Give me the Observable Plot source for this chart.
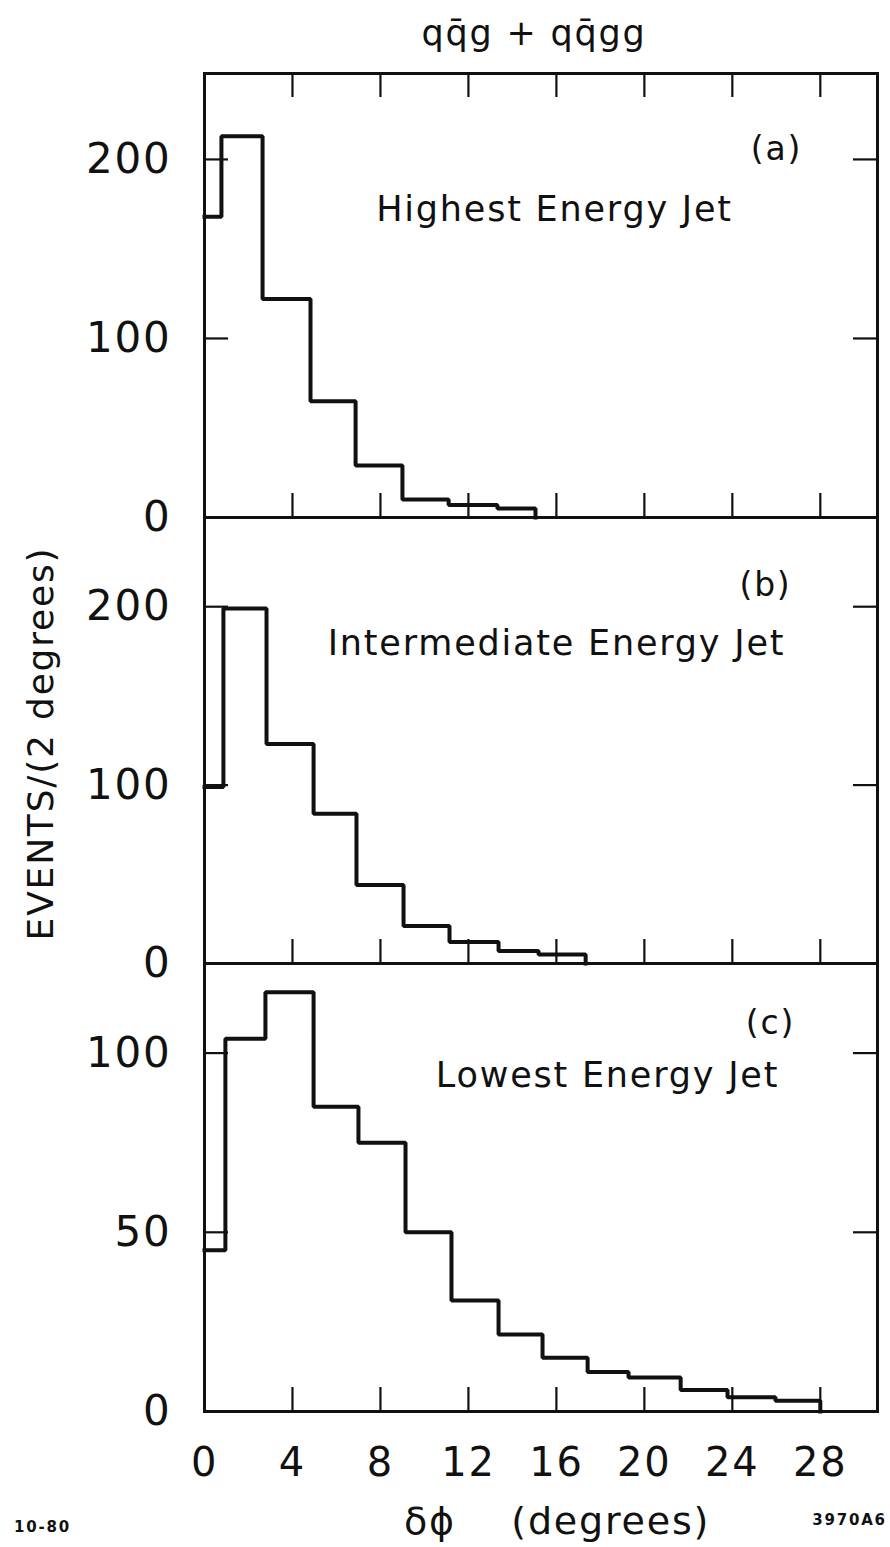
<!DOCTYPE html>
<html>
<head>
<meta charset="utf-8">
<script src="https://cdn.jsdelivr.net/npm/d3@7"></script>
<script src="https://cdn.jsdelivr.net/npm/@observablehq/plot@0.6"></script>
<style>
  body { margin: 0; background: #fff; }
  #chart { position: relative; width: 890px; height: 1547px; background: #fff; }
  #chart svg { position: absolute; left: 0; top: 0; }
</style>
</head>
<body>
<div id="chart"></div>
<script>
// ---- texts ----
const titleText = "qq\u0304g + qq\u0304gg";
const yTitle = "EVENTS/(2 degrees)";
const xTitle = "\u03b4\u03d5\u00a0\u00a0\u00a0\u00a0(degrees)";
const noteLeft = "10-80";
const noteRight = "3970A6";
const panelLabels = ["(a)", "(b)", "(c)"];
const panelNames = ["Highest Energy Jet", "Intermediate Energy Jet", "Lowest Energy Jet"];

// ---- x axis ticks (degrees) ----
const xTicks = [0, 4, 8, 12, 16, 20, 24, 28];

// ---- (a) highest energy jet: bin edges (degrees) and counts ----
const edgesA = [0, 0.77, 2.64, 4.82, 6.87, 9.0, 11.1, 13.32, 15.05];
const countsA = [168, 213, 122, 65, 29, 10, 7, 5];

// ---- (b) intermediate energy jet ----
const edgesB = [0, 0.86, 2.82, 4.96, 6.91, 9.05, 11.14, 13.37, 15.19, 17.33];
const countsB = [99, 199, 123, 84, 44, 21, 12, 7, 5];

// ---- (c) lowest energy jet ----
const edgesC = [0, 0.95, 2.77, 4.96, 7.0, 9.14, 11.23, 13.37, 15.37, 17.42, 19.28, 21.65, 23.78, 25.96, 28.0];
const countsC = [45, 104, 117, 85, 75, 50, 31, 21.5, 15, 11, 9.5, 6, 4, 3];

// ---- y ticks per panel ----
const yTicksA = [0, 100, 200];
const yTicksB = [0, 100, 200];
const yTicksC = [0, 50, 100];

// ---- layout ----
const W = 890, H = 1547, ML = 204, MR = 13;
const XMAX = 30.6;
const INK = "#111";
const FONT = "'DejaVu Sans', sans-serif";

function steps(edges, counts) {
  const pts = counts.map((c, i) => ({x: edges[i], y: c}));
  const last = edges[edges.length - 1];
  pts.push({x: last, y: counts[counts.length - 1]});
  pts.push({x: last, y: 0});
  return pts;
}

function panel(cfg) {
  const plotH = cfg.bottom - cfg.top;
  const plotW = W - ML - MR;
  const tl = 24;
  const marks = [
    Plot.frame({stroke: INK, strokeWidth: 3}),
    Plot.ruleX(xTicks.slice(1), {x: d => d, insetTop: plotH - tl, stroke: INK, strokeWidth: 2.2}),
    Plot.ruleY(cfg.yTicks.slice(1), {y: d => d, insetRight: plotW - tl, stroke: INK, strokeWidth: 2.2}),
    Plot.ruleY(cfg.yTicks.slice(1), {y: d => d, insetLeft: plotW - tl, stroke: INK, strokeWidth: 2.2}),
    Plot.axisY(cfg.yTicks, {anchor: "left", tickSize: 0, tickPadding: 33, fontSize: 42, label: null, fill: INK}),
    Plot.line(steps(cfg.edges, cfg.counts), {x: "x", y: "y", curve: "step-after", stroke: INK, strokeWidth: 4, strokeLinejoin: "miter", strokeLinecap: "square"}),
    Plot.text([cfg.label], {text: d => d, frameAnchor: "top-left", dx: cfg.labelAt[0], dy: cfg.labelAt[1], fontSize: 33, fill: INK, textAnchor: "middle", lineAnchor: "middle", style: {letterSpacing: "5px"}}),
    Plot.text([cfg.name], {text: d => d, frameAnchor: "top-left", dx: cfg.nameAt[0], dy: cfg.nameAt[1], fontSize: 35, fill: INK, textAnchor: "middle", lineAnchor: "middle"})
  ];
  if (cfg.topTicks) {
    marks.push(Plot.ruleX(xTicks.slice(1), {x: d => d, insetBottom: plotH - tl, stroke: INK, strokeWidth: 2.2}));
  }
  if (cfg.extra) marks.push(...cfg.extra);
  return Plot.plot({
    width: W,
    height: H,
    marginLeft: ML,
    marginRight: MR,
    marginTop: cfg.top,
    marginBottom: H - cfg.bottom,
    x: {domain: [0, XMAX], axis: cfg.xAxis ? undefined : null},
    y: {domain: [0, cfg.yMax]},
    style: {background: "transparent", overflow: "visible", fontFamily: FONT, color: INK, letterSpacing: "1.8px"},
    marks
  });
}

const chart = document.getElementById("chart");

chart.appendChild(panel({
  top: 73, bottom: 517, yMax: 248, yTicks: yTicksA,
  edges: edgesA, counts: countsA,
  label: panelLabels[0], labelAt: [572, 76],
  name: panelNames[0], nameAt: [350, 136],
  topTicks: true,
  extra: [
    Plot.text([titleText], {text: d => d, frameAnchor: "top", dx: -7, dy: -40, fontSize: 35, fill: INK, textAnchor: "middle", lineAnchor: "middle"})
  ]
}));

chart.appendChild(panel({
  top: 517, bottom: 963, yMax: 250, yTicks: yTicksB,
  edges: edgesB, counts: countsB,
  label: panelLabels[1], labelAt: [561, 68],
  name: panelNames[1], nameAt: [352, 126],
  extra: [
    Plot.text([yTitle], {text: d => d, frameAnchor: "left", rotate: -90, dx: -163, dy: 3, fontSize: 36, fill: INK, textAnchor: "middle", lineAnchor: "middle"})
  ]
}));

chart.appendChild(panel({
  top: 963, bottom: 1411, yMax: 125, yTicks: yTicksC,
  edges: edgesC, counts: countsC,
  label: panelLabels[2], labelAt: [566, 60],
  name: panelNames[2], nameAt: [403, 112],
  xAxis: true,
  extra: [
    Plot.axisX(xTicks, {anchor: "bottom", tickSize: 0, tickPadding: 36, fontSize: 40, label: null, fill: INK}),
    Plot.text([xTitle], {text: d => d, frameAnchor: "bottom", dx: 16, dy: 110, fontSize: 38, fill: INK, textAnchor: "middle", lineAnchor: "middle"}),
    Plot.text([noteLeft], {text: d => d, frameAnchor: "bottom-left", dx: -162, dy: 116, fontSize: 15, fontWeight: "bold", fill: INK, textAnchor: "middle", lineAnchor: "middle", style: {letterSpacing: "1px"}}),
    Plot.text([noteRight], {text: d => d, frameAnchor: "bottom-right", dx: -28, dy: 109, fontSize: 15, fontWeight: "bold", fill: INK, textAnchor: "middle", lineAnchor: "middle", style: {letterSpacing: "0.5px"}})
  ]
}));
</script>
</body>
</html>
